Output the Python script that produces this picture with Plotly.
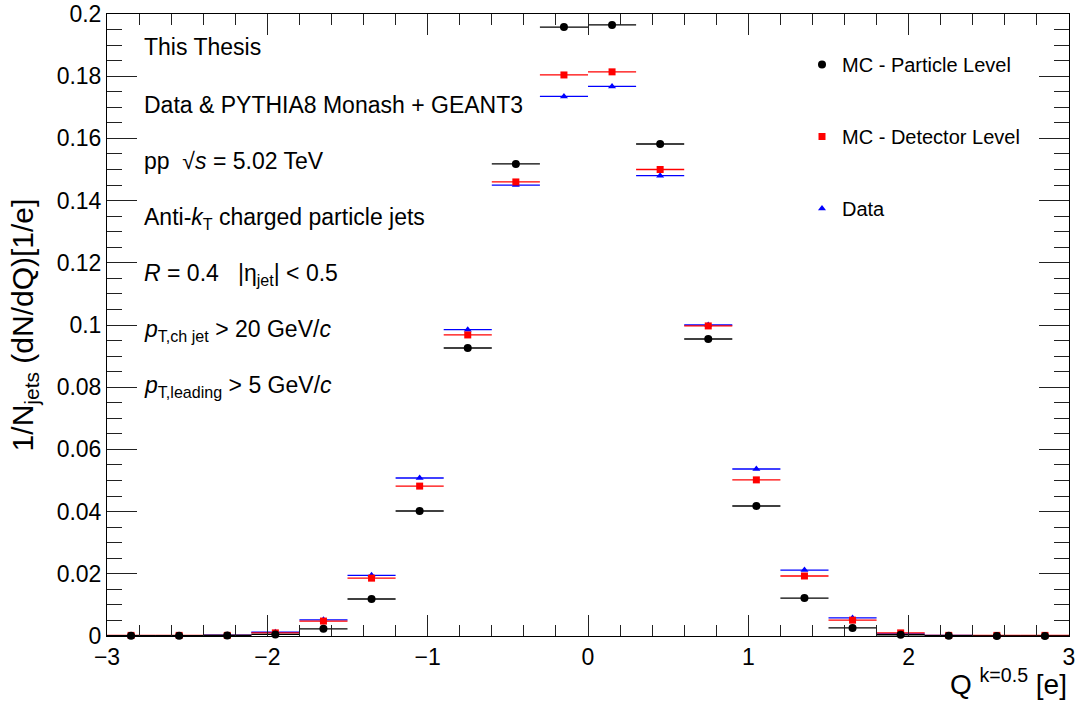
import plotly.graph_objects as go

# ---------------- data ----------------
bin_centers = [-2.85, -2.55, -2.25, -1.95, -1.65, -1.35, -1.05, -0.75, -0.45, -0.15,
               0.15, 0.45, 0.75, 1.05, 1.35, 1.65, 1.95, 2.25, 2.55, 2.85]
bin_half_width = [0.15] * len(bin_centers)

mc_particle = [0.0001, 0.0001, 0.0002, 0.0005, 0.0023, 0.0119, 0.0402, 0.0926, 0.1518, 0.1958,
               0.1965, 0.1582, 0.0955, 0.0418, 0.0122, 0.0026, 0.0004, 0.0001, 0.0000, 0.0000]
mc_detector = [0.0002, 0.0002, 0.0002, 0.0010, 0.0048, 0.0186, 0.0482, 0.0968, 0.1460, 0.1804,
               0.1814, 0.1500, 0.0997, 0.0502, 0.0193, 0.0051, 0.0010, 0.0002, 0.0002, 0.0002]
data_vals = [0.0001, 0.0001, 0.0003, 0.0012, 0.0052, 0.0195, 0.0508, 0.0985, 0.1450, 0.1735,
             0.1767, 0.1480, 0.1000, 0.0537, 0.0212, 0.0058, 0.0007, 0.0002, 0.0001, 0.0001]

series_names = ["MC - Particle Level", "MC - Detector Level", "Data"]

info_lines = [
    "This Thesis",
    "Data &amp; PYTHIA8 Monash + GEANT3",
    "pp  \u221a<i>s</i> = 5.02 TeV",
    "Anti-<i>k</i><sub>T</sub> charged particle jets",
    "<i>R</i> = 0.4   |\u03b7<sub>jet</sub>| &lt; 0.5",
    "<i>p</i><sub>T,ch jet</sub> &gt; 20 GeV/<i>c</i>",
    "<i>p</i><sub>T,leading</sub> &gt; 5 GeV/<i>c</i>",
]

FONT = "Liberation Sans, Arial, Helvetica, sans-serif"

fig = go.Figure()

def add_series(y, name, color, symbol, size, rank):
    fig.add_trace(go.Scatter(
        x=bin_centers, y=y, mode="markers", name=name,
        marker=dict(color=color, symbol=symbol, size=size, line=dict(width=0)),
        error_x=dict(type="data", array=bin_half_width, color=color, thickness=1.3, width=0),
        cliponaxis=False, legendgroup=name, legendrank=rank,
    ))

# draw order: data (blue), detector (red), particle (black)
add_series(data_vals, series_names[2], "#0000ff", "triangle-up", 7, 3)
add_series(mc_detector, series_names[1], "#ff0000", "square", 7, 2)
add_series(mc_particle, series_names[0], "#000000", "circle", 8, 1)

# info text block
plot_top_px, plot_bot_px = 14, 636
line_px = [47, 105, 161, 218, 274, 330, 386]
for txt, ypx in zip(info_lines, line_px):
    fig.add_annotation(
        text=txt, xref="paper", yref="paper",
        x=(142 - 107) / 962, y=(plot_bot_px - ypx) / (plot_bot_px - plot_top_px),
        xanchor="left", yanchor="middle", showarrow=False,
        font=dict(family=FONT, size=23, color="black"),
    )

# x-axis title (ROOT style, right aligned)
fig.add_annotation(
    text="Q <sup>k=0.5</sup> [e]", xref="paper", yref="paper",
    x=1.0, y=-(682 - 636) / 622, xanchor="right", yanchor="middle", showarrow=False,
    font=dict(family=FONT, size=28, color="black"),
)

axis_common = dict(
    showgrid=False, zeroline=False, showline=True, linecolor="black", linewidth=1,
    mirror="allticks", ticks="inside", tickcolor="#222222", tickwidth=1,
    tickfont=dict(family=FONT, size=23, color="black"), automargin=False,
)

fig.update_xaxes(range=[-3, 3], dtick=1, tick0=0, ticklen=21,
                 minor=dict(dtick=0.2, ticklen=11, ticks="inside", tickcolor="#222222"),
                 **axis_common)
fig.update_yaxes(range=[0, 0.2], dtick=0.02, tick0=0, ticklen=30,
                 minor=dict(dtick=0.005, ticklen=15, ticks="inside", tickcolor="#222222"),
                 title=dict(text="1/N<sub>jets</sub> (dN/dQ)[1/e]",
                            font=dict(family=FONT, size=30, color="black"), standoff=14),
                 **axis_common)

fig.update_layout(
    width=1086, height=706,
    margin=dict(l=107, r=17, t=14, b=70),
    paper_bgcolor="white", plot_bgcolor="white",
    font=dict(family=FONT, color="black"),
    legend=dict(x=(802 - 107) / 962, y=(636 - 45) / 622, xanchor="left", yanchor="top",
                bgcolor="rgba(0,0,0,0)", borderwidth=0, tracegroupgap=43,
                font=dict(family=FONT, size=20, color="black")),
    showlegend=True,
)

fig.write_html("out.html")
